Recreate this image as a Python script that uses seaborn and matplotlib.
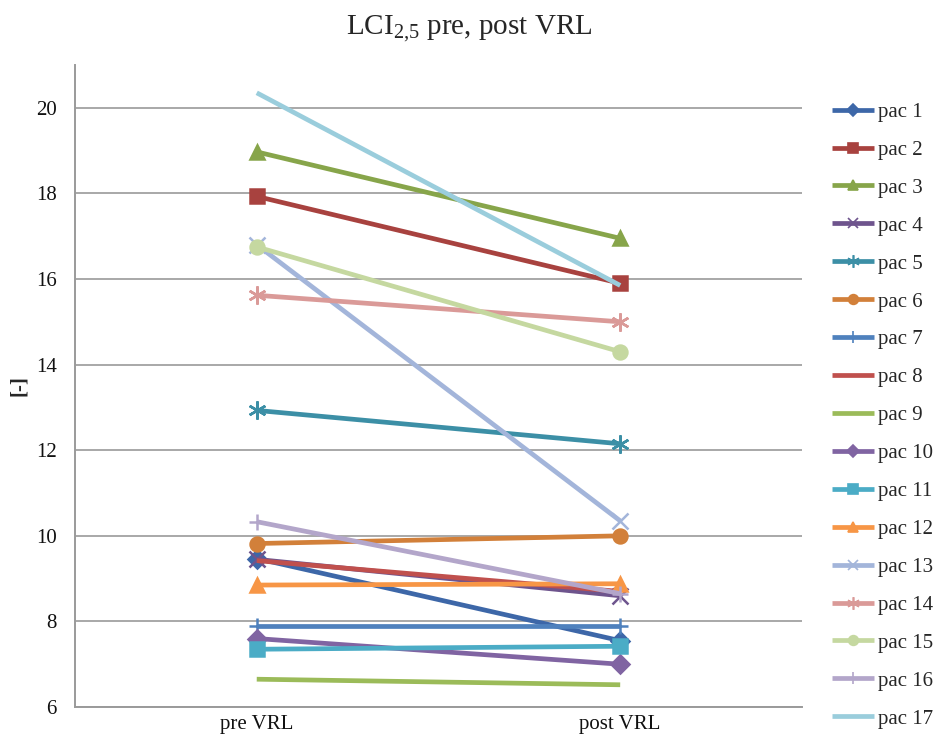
import matplotlib
matplotlib.use("Agg")
import matplotlib.pyplot as plt
from matplotlib.lines import Line2D
import seaborn as sns
import pandas as pd

# Lung clearance index per patient, before and after VRL
stages = ["pre VRL", "post VRL"]
patients = [f"pac {i}" for i in range(1, 18)]
pre_values = [9.47, 17.93, 18.97, 9.45, 12.93, 9.82, 7.90, 9.42, 6.65,
              7.60, 7.35, 8.85, 16.80, 15.62, 16.75, 10.33, 20.35]
post_values = [7.55, 15.90, 16.95, 8.60, 12.15, 10.00, 7.90, 8.70, 6.52,
               7.00, 7.42, 8.88, 10.35, 15.00, 14.30, 8.65, 15.85]
y_ticks = [6, 8, 10, 12, 14, 16, 18, 20]

colors = ["#3D67A8", "#A8423F", "#87A54A", "#6E548D", "#3C8FA6", "#D2803A",
          "#4F81BD", "#C0504D", "#9BBB59", "#8064A2", "#4BACC6", "#F79646",
          "#A3B5DA", "#DA9A98", "#C5D8A0", "#B3A6CA", "#9ACDDC"]
asterisk = (6, 2, 0)
markers = ["D", "s", "^", "x", asterisk, "o", "+", "None", "None",
           "D", "s", "^", "x", asterisk, "o", "+", "None"]
# line-art markers read smaller than filled ones, so draw them larger
sizes = [9, 10, 10, 11, 13, 10, 12, 0, 0, 9, 10, 10, 11, 13, 10, 12, 0]

df = pd.DataFrame({
    "patient": [p for p in patients for _ in stages],
    "stage": stages * len(patients),
    "value": [v for pair in zip(pre_values, post_values) for v in pair],
})

sns.set_theme(style="white")
plt.rcParams["font.family"] = ["Liberation Serif", "DejaVu Serif"]
plt.rcParams["mathtext.fontset"] = "custom"
plt.rcParams["mathtext.rm"] = "Liberation Serif"
plt.rcParams["mathtext.it"] = "Liberation Serif:italic"

fig = plt.figure(figsize=(9.39, 7.47), dpi=100)
ax = fig.add_axes([0.0799, 0.0535, 0.7741, 0.8595])

for p, c, m, s in zip(patients, colors, markers, sizes):
    sub = df[df["patient"] == p]
    sns.lineplot(data=sub, x="stage", y="value", color=c, marker=m,
                 markersize=s, markeredgewidth=1.8, markeredgecolor=c,
                 markerfacecolor=c, linewidth=3.4, sort=False, ax=ax,
                 solid_capstyle="butt")

ax.set_xlim(-0.5, 1.5)
ax.set_ylim(6, 21)
ax.set_yticks(y_ticks)
ax.set_xticks([0, 1])
ax.set_xticklabels(stages)
ax.yaxis.grid(True, color="#9A9A9A", linewidth=1.2)
ax.set_axisbelow(True)
ax.tick_params(axis="both", length=0, labelsize=15, colors="#111111")
ax.tick_params(axis="y", pad=13)
ax.tick_params(axis="x", pad=6)
for side in ["top", "right"]:
    ax.spines[side].set_visible(False)
for side in ["left", "bottom"]:
    ax.spines[side].set_color("#9A9A9A")
    ax.spines[side].set_linewidth(1.4)

ax.set_xlabel("")
ax.set_ylabel("[-]", fontsize=15, fontweight="bold", labelpad=5)
fig.suptitle("LCI$_{2{,}5}$ pre, post VRL", fontsize=21, y=0.982)

handles = [Line2D([], [], color=c, marker=m, markersize=s * 0.7,
                  markerfacecolor=c, markeredgecolor=c, markeredgewidth=1.2,
                  linewidth=3.4, solid_capstyle="butt")
           for c, m, s in zip(colors, markers, sizes)]
fig.legend(handles, patients, loc="upper left", bbox_to_anchor=(0.886, 0.863),
           frameon=False, fontsize=15, handlelength=2.0, handletextpad=0.2,
           labelspacing=0.88, borderaxespad=0, borderpad=0)

fig.savefig("out.png", dpi=100)
